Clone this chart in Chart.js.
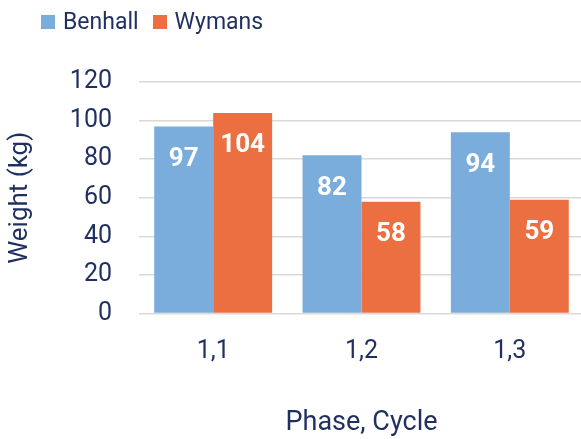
<!DOCTYPE html>
<html>
<head>
<meta charset="utf-8">
<script src="https://cdn.jsdelivr.net/npm/chart.js@4"></script>
<style>
    html, body { margin: 0; padding: 0; background: #fff; overflow: hidden; }
    .wrap { position: relative; width: 581px; height: 439px; overflow: hidden; }
    .legend { position: absolute; left: 41px; top: 8px; display: flex; font: 23px Roboto, sans-serif; color: #1f2f5f; }
    .legend span { display: flex; align-items: center; margin-right: 14px; }
    .legend i { display: inline-block; width: 14px; height: 14px; margin-right: 8px; }
</style>
</head>
<body>
<div class="wrap">
    <!-- canvas a bit wider than the page: the plot runs past the right edge in the original -->
    <canvas id="chart" width="584" height="439"></canvas>
    <div class="legend" id="legend"></div>
</div>
<script>
const categories = ['1,1', '1,2', '1,3'];
const benhall = [97, 82, 94];
const wymans = [104, 58, 59];
const yTicks = [0, 20, 40, 60, 80, 100, 120];

const textColor = '#1f2f5f';
const blue = '#7aaddb';
const orange = '#ec6f42';

// legend as html, sits above the canvas
document.getElementById('legend').innerHTML =
    '<span><i style="background:' + blue + '"></i>Benhall</span>' +
    '<span><i style="background:' + orange + '"></i>Wymans</span>';

// white values inside the top of each bar
const barLabels = {
    id: 'barLabels',
    afterDatasetsDraw(chart) {
        const ctx = chart.ctx;
        ctx.save();
        ctx.fillStyle = '#fff';
        ctx.font = 'bold 26px Roboto';
        ctx.textAlign = 'center';
        ctx.textBaseline = 'middle';
        chart.data.datasets.forEach((ds, i) => {
            chart.getDatasetMeta(i).data.forEach((bar, j) => {
                ctx.fillText(ds.data[j], bar.x, bar.y + 33);
            });
        });
        ctx.restore();
    }
};

new Chart('chart', {
    type: 'bar',
    data: {
        labels: categories,
        datasets: [
            { label: 'Benhall', data: benhall, backgroundColor: blue },
            { label: 'Wymans', data: wymans, backgroundColor: orange }
        ]
    },
    options: {
        responsive: false,
        animation: false,
        layout: { padding: { top: 82, right: 0, bottom: 0, left: 0 } },
        datasets: { bar: { categoryPercentage: 0.795, barPercentage: 1.0 } },
        plugins: {
            legend: { display: false },
            tooltip: { enabled: false }
        },
        scales: {
            x: {
                grid: { display: false },
                border: { display: false },
                ticks: { color: textColor, font: { family: 'Roboto', size: 25 }, padding: 15 },
                title: {
                    display: true,
                    text: 'Phase, Cycle',
                    color: textColor,
                    font: { family: 'Roboto', size: 27 },
                    padding: { top: 25, bottom: 0 }
                }
            },
            y: {
                min: 0,
                max: 120,
                afterBuildTicks: (axis) => { axis.ticks = yTicks.map(v => ({ value: v })); },
                afterFit: (axis) => { axis.width = 139; },
                grid: { color: '#d9d9d9', lineWidth: 1.5, drawTicks: false },
                border: { display: false },
                ticks: { color: textColor, font: { family: 'Roboto', size: 25 }, padding: 27 },
                title: {
                    display: true,
                    text: 'Weight (kg)',
                    color: textColor,
                    font: { family: 'Roboto', size: 26 },
                    padding: { top: 5, bottom: 0 }
                }
            }
        }
    },
    plugins: [barLabels]
});
</script>
</body>
</html>
